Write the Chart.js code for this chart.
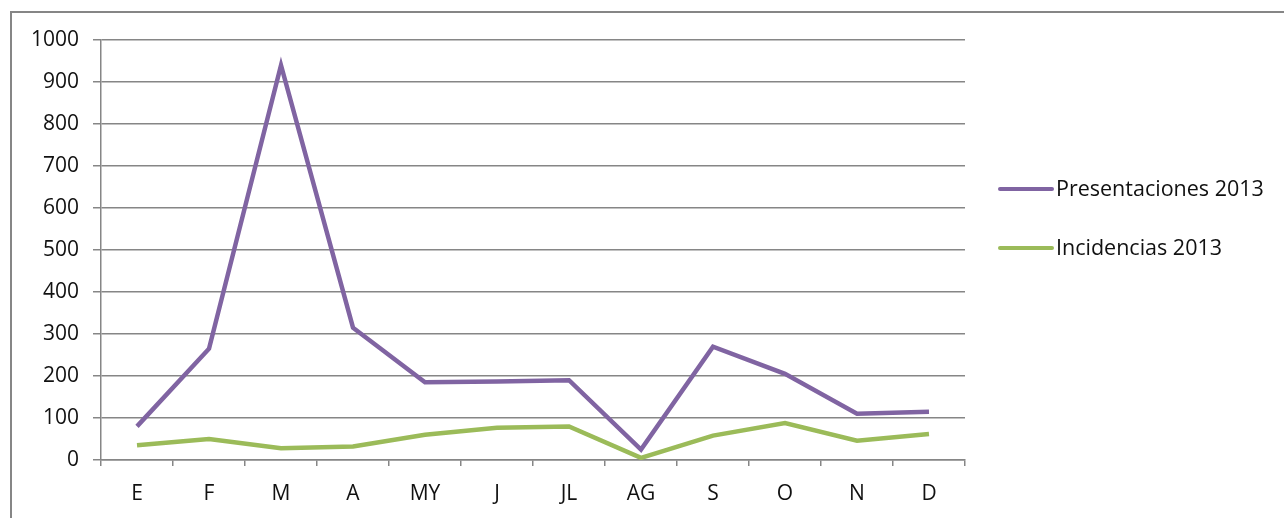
<!DOCTYPE html>
<html>
<head>
<meta charset="utf-8">
<script src="https://cdn.jsdelivr.net/npm/chart.js@4/dist/chart.umd.min.js"></script>
<style>
  html, body { margin: 0; padding: 0; background: #fff; }
  #wrap { position: relative; width: 1284px; height: 518px; overflow: hidden; }
  #frame {
    position: absolute; left: 10px; top: 11px; width: 1400px; height: 600px;
    border-left: 2px solid #868686; border-top: 2px solid #868686;
    box-sizing: border-box;
  }
  canvas { position: absolute; left: 0; top: 0; }
</style>
</head>
<body>
<div id="wrap">
  <div id="frame"></div>
  <canvas id="chart" width="1284" height="518"></canvas>
</div>
<script>
// --- data ---
const months = ['E', 'F', 'M', 'A', 'MY', 'J', 'JL', 'AG', 'S', 'O', 'N', 'D'];
const presentaciones = [80, 265, 940, 315, 185, 187, 190, 25, 270, 205, 110, 115];
const incidencias = [35, 50, 28, 32, 60, 77, 80, 5, 58, 88, 46, 62];
const yTicks = [0, 100, 200, 300, 400, 500, 600, 700, 800, 900, 1000];

const FONT = '"Open Sans", "Noto Sans", sans-serif';
const GRID = '#868686';
const TEXT = '#111';

// legend drawn to the right of the plot, like the Excel original
const sideLegend = {
    id: 'sideLegend',
    afterDraw(chart) {
        const ctx = chart.ctx;
        const x0 = 1000, x1 = 1052, rows = [189, 248];
        ctx.save();
        chart.data.datasets.forEach((ds, i) => {
            ctx.strokeStyle = ds.borderColor;
            ctx.lineWidth = 4;
            ctx.lineCap = 'round';
            ctx.beginPath();
            ctx.moveTo(x0, rows[i]);
            ctx.lineTo(x1, rows[i]);
            ctx.stroke();
            ctx.fillStyle = TEXT;
            ctx.font = '21.5px ' + FONT;
            ctx.textBaseline = 'middle';
            ctx.fillText(ds.label, x1 + 4, rows[i] + 1);
        });
        ctx.restore();
    }
};

new Chart(document.getElementById('chart'), {
    type: 'line',
    data: {
        labels: months,
        datasets: [
            {
                label: 'Presentaciones 2013',
                data: presentaciones,
                borderColor: '#8064A2',
                borderWidth: 4.5,
                pointRadius: 0,
                tension: 0
            },
            {
                label: 'Incidencias 2013',
                data: incidencias,
                borderColor: '#9BBB59',
                borderWidth: 4.5,
                pointRadius: 0,
                tension: 0
            }
        ]
    },
    options: {
        responsive: false,
        animation: false,
        layout: { padding: { left: 0, top: 40, right: 319, bottom: 0 } },
        plugins: {
            legend: { display: false },
            tooltip: { enabled: false }
        },
        scales: {
            x: {
                offset: true,
                afterFit: s => { s.height = 58; },
                grid: {
                    offset: true,
                    drawOnChartArea: false,
                    drawTicks: true,
                    tickLength: 6,
                    color: GRID,
                    lineWidth: 1.5
                },
                border: { display: true, color: GRID, width: 1.5 },
                ticks: {
                    padding: 15,
                    color: TEXT,
                    font: { family: FONT, size: 21 }
                }
            },
            y: {
                min: 0,
                max: 1000,
                afterFit: s => { s.width = 101; },
                afterBuildTicks: s => { s.ticks = yTicks.map(v => ({ value: v })); },
                grid: {
                    color: GRID,
                    tickLength: 8,
                    lineWidth: 1.5
                },
                border: { display: true, color: GRID, width: 1.5 },
                ticks: {
                    padding: 14,
                    color: TEXT,
                    font: { family: FONT, size: 21 },
                    callback: v => String(v)
                }
            }
        }
    },
    plugins: [sideLegend]
});
</script>
</body>
</html>
